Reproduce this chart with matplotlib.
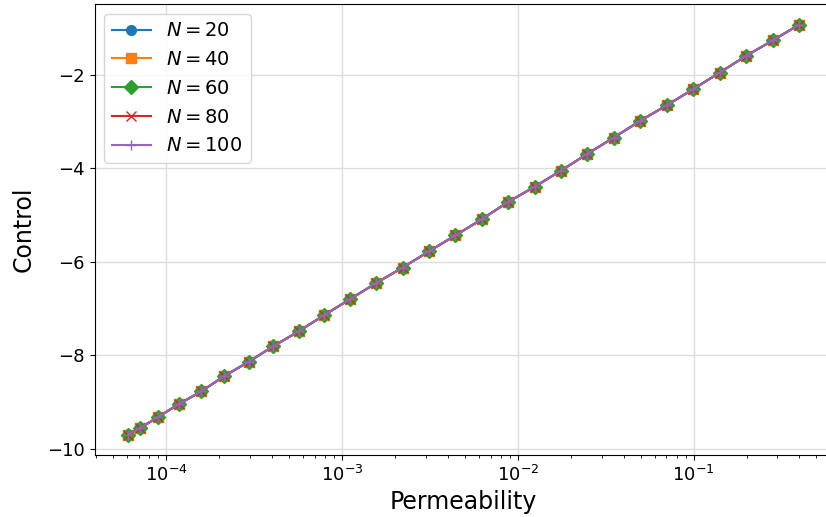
import matplotlib
matplotlib.use("Agg")
import matplotlib.pyplot as plt

# Data
permeability = [6.07e-5, 7.06e-5, 9.04e-5, 1.18e-4, 1.58e-4, 2.14e-4, 2.96e-4,
                4.07e-4, 5.69e-4, 7.89e-4, 1.117e-3, 1.566e-3, 2.21e-3, 3.13e-3,
                4.42e-3, 6.22e-3, 8.77e-3, 1.247e-2, 1.754e-2, 2.48e-2, 3.51e-2,
                4.98e-2, 7.02e-2, 9.98e-2, 0.1406, 0.199, 0.282, 0.400]
control = [-9.69, -9.56, -9.31, -9.04, -8.77, -8.44, -8.13, -7.80, -7.48,
           -7.14, -6.79, -6.45, -6.12, -5.77, -5.43, -5.09, -4.72, -4.39,
           -4.05, -3.69, -3.34, -2.98, -2.65, -2.30, -1.95, -1.59, -1.26, -0.92]
N_values = [20, 40, 60, 80, 100]
series = {20: control, 40: control, 60: control, 80: control, 100: control}
markers = ['o', 's', 'D', 'x', '+']
colors = ['#1f77b4', '#ff7f0e', '#2ca02c', '#d62728', '#9467bd']

fig = plt.figure(figsize=(8.26, 5.17), dpi=100)
ax = fig.add_axes([94.5 / 826, 62 / 517, (833 - 94.5) / 826, (455 - 4) / 517])

for n, m, c in zip(N_values, markers, colors):
    ax.plot(permeability, series[n], marker=m, color=c, linewidth=1.5,
            markersize=7, label=rf'$N={n}$')

ax.set_xscale('log')
ax.grid(True, which='major', color='#dddddd', linewidth=1.0)
ax.set_axisbelow(True)
ax.set_xlabel('Permeability', fontsize=17)
ax.set_ylabel('Control', fontsize=17, labelpad=8)
ax.tick_params(axis='both', which='major', labelsize=13)
leg = ax.legend(loc='upper left', fontsize=14)

fig.savefig('out.png', dpi=100)
